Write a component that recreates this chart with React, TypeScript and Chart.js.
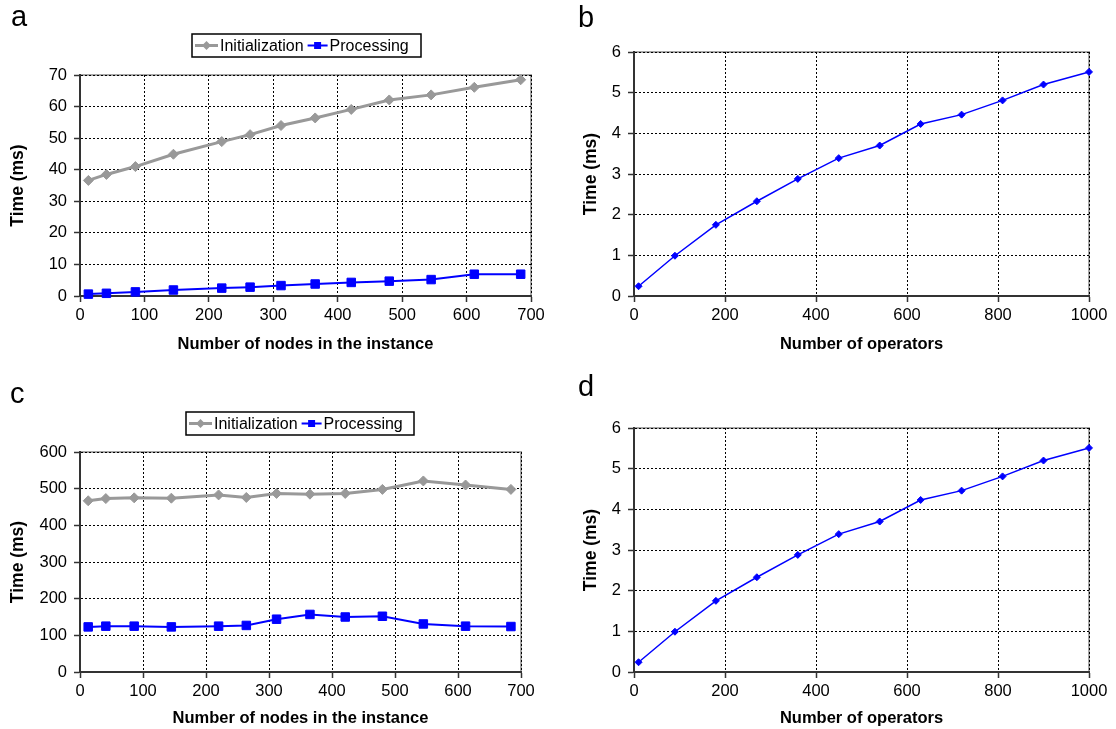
import React, { useEffect, useRef } from 'react';
import { Chart, registerables } from 'chart.js';

Chart.register(...registerables);

const FONT = '"Liberation Sans", Arial, Helvetica, sans-serif';

// ---- data ----
const nodeCounts = [13, 41, 86, 145, 220, 264, 312, 365, 421, 480, 545, 612, 684];
const initTimesA = [36.6, 38.5, 41.0, 44.9, 48.9, 51.1, 54.0, 56.4, 59.1, 62.1, 63.7, 66.1, 68.5];
const procTimesA = [0.6, 0.85, 1.3, 1.9, 2.5, 2.8, 3.3, 3.8, 4.3, 4.7, 5.2, 6.9, 6.9];
const initTimesC = [467, 473, 475, 474, 483, 476, 487, 485, 487, 498, 521, 510, 498];
const procTimesC = [123, 125, 125, 123, 125, 127, 144, 157, 150, 152, 131, 125, 124];
const operatorCounts = [10, 90, 180, 270, 360, 450, 540, 630, 720, 810, 900, 1000];
const operatorTimesB = [0.24, 0.99, 1.75, 2.33, 2.88, 3.39, 3.7, 4.23, 4.46, 4.81, 5.2, 5.51];
const operatorTimesD = [0.24, 0.99, 1.75, 2.33, 2.88, 3.39, 3.7, 4.23, 4.46, 4.81, 5.2, 5.51];

const nodeTicks = [0, 100, 200, 300, 400, 500, 600, 700];
const operatorTicks = [0, 200, 400, 600, 800, 1000];
const timeTicksA = [0, 10, 20, 30, 40, 50, 60, 70];
const timeTicksC = [0, 100, 200, 300, 400, 500, 600];
const timeTicksOps = [0, 1, 2, 3, 4, 5, 6];

const seriesNames = ['Initialization', 'Processing'];
const xTitleNodes = 'Number of nodes in the instance';
const xTitleOps = 'Number of operators';
const yTitle = 'Time (ms)';

const GREY = '#999999';
const BLUE = '#0000ff';

function pts(xs: number[], ys: number[]) {
  return xs.map((x, i) => ({ x, y: ys[i] }));
}

function drawMarker(ctx: CanvasRenderingContext2D, style: string, x: number, y: number, color: string) {
  ctx.fillStyle = color;
  ctx.beginPath();
  if (style === 'rect') {
    ctx.rect(x - 3.5, y - 3.5, 7, 7);
  } else {
    ctx.moveTo(x, y - 4.5);
    ctx.lineTo(x + 4.5, y);
    ctx.lineTo(x, y + 4.5);
    ctx.lineTo(x - 4.5, y);
    ctx.closePath();
  }
  ctx.fill();
}

const decorPlugin = {
  id: 'panelDecor',
  beforeDraw(chart: any) {
    const { ctx, chartArea: ca } = chart;
    ctx.save();
    ctx.strokeStyle = '#a6a6a6';
    ctx.lineWidth = 2;
    ctx.beginPath();
    ctx.moveTo(ca.left, ca.top);
    ctx.lineTo(ca.right, ca.top);
    ctx.lineTo(ca.right, ca.bottom);
    ctx.stroke();
    ctx.restore();
  },
  afterDraw(chart: any, _args: any, opts: any) {
    const { ctx } = chart;
    ctx.save();
    ctx.fillStyle = '#000';
    ctx.font = `29px ${FONT}`;
    ctx.textBaseline = 'alphabetic';
    ctx.textAlign = 'left';
    ctx.fillText(opts.letter, opts.letterX, opts.letterY);
    if (opts.legend) {
      const { x, y, w, h } = opts.legend;
      ctx.fillStyle = '#fff';
      ctx.fillRect(x, y, w, h);
      ctx.strokeStyle = '#000';
      ctx.lineWidth = 1.5;
      ctx.strokeRect(x, y, w, h);
      let cx = x + 3;
      const cy = y + h / 2;
      ctx.font = `16px ${FONT}`;
      ctx.textBaseline = 'middle';
      chart.data.datasets.forEach((ds: any, i: number) => {
        const segW = i === 0 ? 23 : 20;
        ctx.strokeStyle = ds.borderColor;
        ctx.lineWidth = ds.borderWidth;
        ctx.beginPath();
        ctx.moveTo(cx, cy);
        ctx.lineTo(cx + segW, cy);
        ctx.stroke();
        drawMarker(ctx, ds.pointStyle, cx + segW / 2, cy, ds.borderColor);
        cx += segW + 2;
        ctx.fillStyle = '#000';
        ctx.fillText(ds.label, cx, cy + 1);
        cx += ctx.measureText(ds.label).width + 4;
      });
    }
    ctx.restore();
  },
};

type PanelSpec = {
  canvas: { left: number; top: number; w: number; h: number };
  plot: { l: number; r: number; t: number; b: number };
  yTitleX: number;
  xTitleY: number;
  letter: string;
  letterX: number;
  letterY: number;
  legend?: { x: number; y: number; w: number; h: number };
  xMax: number;
  yMax: number;
  xTicks: number[];
  yTicks: number[];
  xTitle: string;
  datasets: any[];
};

function Panel({ spec }: { spec: PanelSpec }) {
  const ref = useRef<HTMLCanvasElement>(null);
  useEffect(() => {
    const c = spec.canvas;
    const p = spec.plot;
    const tickFont = { family: FONT, size: 16.5 };
    const xTitleFont = { family: FONT, size: 16.5, weight: 'bold' as const };
    const yTitleFont = { family: FONT, size: 17.5, weight: 'bold' as const };
    const fmt = (v: any) => String(v);
    const chart = new Chart(ref.current as HTMLCanvasElement, {
      type: 'line',
      data: { datasets: spec.datasets },
      plugins: [decorPlugin as any],
      options: {
        responsive: false,
        animation: false,
        devicePixelRatio: 1,
        layout: {
          padding: {
            left: 0,
            top: p.t - c.top,
            right: c.left + c.w - p.r,
            bottom: 0,
          },
        },
        plugins: {
          legend: { display: false },
          tooltip: { enabled: false },
          panelDecor: {
            letter: spec.letter,
            letterX: spec.letterX - c.left,
            letterY: spec.letterY - c.top,
            legend: spec.legend
              ? { x: spec.legend.x - c.left, y: spec.legend.y - c.top, w: spec.legend.w, h: spec.legend.h }
              : null,
          },
        } as any,
        scales: {
          x: {
            type: 'linear',
            min: 0,
            max: spec.xMax,
            afterBuildTicks: (s: any) => {
              s.ticks = spec.xTicks.map((v) => ({ value: v }));
            },
            afterFit: (s: any) => {
              s.height = c.top + c.h - p.b;
            },
            ticks: { font: tickFont, color: '#000', padding: 4, maxRotation: 0, autoSkip: false, callback: fmt },
            grid: { color: '#000', lineWidth: 1, tickLength: 6, tickColor: '#333', tickWidth: 1.5, tickBorderDash: [] } as any,
            border: { display: true, color: '#333', width: 2, dash: [2, 2] },
            title: {
              display: true,
              text: spec.xTitle,
              font: xTitleFont,
              color: '#000',
              padding: { top: 0, bottom: c.top + c.h - spec.xTitleY - (16.5 * 1.2) / 2 },
            },
          },
          y: {
            type: 'linear',
            min: 0,
            max: spec.yMax,
            afterBuildTicks: (s: any) => {
              s.ticks = spec.yTicks.map((v) => ({ value: v }));
            },
            afterFit: (s: any) => {
              s.width = p.l - c.left;
            },
            ticks: { font: tickFont, color: '#000', padding: 7, autoSkip: false, callback: fmt },
            grid: { color: '#000', lineWidth: 1, tickLength: 6, tickColor: '#333', tickWidth: 1.5, tickBorderDash: [] } as any,
            border: { display: true, color: '#333', width: 2, dash: [2, 2] },
            title: {
              display: true,
              text: yTitle,
              font: yTitleFont,
              color: '#000',
              padding: { top: spec.yTitleX - c.left - (17.5 * 1.2) / 2, bottom: 0 },
            },
          },
        },
      },
    });
    return () => chart.destroy();
  }, [spec]);
  const c = spec.canvas;
  return (
    <canvas
      ref={ref}
      width={c.w}
      height={c.h}
      style={{ position: 'absolute', left: c.left, top: c.top, width: c.w, height: c.h }}
    />
  );
}

function nodeDatasets(init: number[], proc: number[]) {
  return [
    {
      label: seriesNames[0],
      data: pts(nodeCounts, init),
      borderColor: GREY,
      backgroundColor: GREY,
      borderWidth: 3,
      pointStyle: 'rectRot',
      pointRadius: 5,
      pointBorderWidth: 1,
      pointBorderColor: GREY,
      pointBackgroundColor: GREY,
      tension: 0,
      clip: false,
    },
    {
      label: seriesNames[1],
      data: pts(nodeCounts, proc),
      borderColor: BLUE,
      backgroundColor: BLUE,
      borderWidth: 2,
      pointStyle: 'rect',
      pointRadius: 6,
      pointBorderWidth: 1,
      pointBorderColor: BLUE,
      pointBackgroundColor: BLUE,
      tension: 0,
      clip: false,
    },
  ];
}

function opsDatasets(times: number[]) {
  return [
    {
      label: 'Time',
      data: pts(operatorCounts, times),
      borderColor: BLUE,
      backgroundColor: BLUE,
      borderWidth: 1.5,
      pointStyle: 'rectRot',
      pointRadius: 3.5,
      pointBorderWidth: 1,
      pointBorderColor: BLUE,
      pointBackgroundColor: BLUE,
      tension: 0,
      clip: false,
    },
  ];
}

const panels: PanelSpec[] = [
  {
    canvas: { left: 0, top: 0, w: 558, h: 364 },
    plot: { l: 80, r: 531, t: 75, b: 296 },
    yTitleX: 18,
    xTitleY: 344,
    letter: 'a',
    letterX: 11,
    letterY: 26,
    legend: { x: 192, y: 34, w: 229, h: 23 },
    xMax: 700,
    yMax: 70,
    xTicks: nodeTicks,
    yTicks: timeTicksA,
    xTitle: xTitleNodes,
    datasets: nodeDatasets(initTimesA, procTimesA),
  },
  {
    canvas: { left: 558, top: 0, w: 558, h: 364 },
    plot: { l: 634, r: 1089, t: 52, b: 296 },
    yTitleX: 591,
    xTitleY: 344,
    letter: 'b',
    letterX: 578,
    letterY: 27,
    xMax: 1000,
    yMax: 6,
    xTicks: operatorTicks,
    yTicks: timeTicksOps,
    xTitle: xTitleOps,
    datasets: opsDatasets(operatorTimesB),
  },
  {
    canvas: { left: 0, top: 364, w: 558, h: 365 },
    plot: { l: 80, r: 521, t: 452, b: 672 },
    yTitleX: 18,
    xTitleY: 718,
    letter: 'c',
    letterX: 10,
    letterY: 403,
    legend: { x: 186, y: 412, w: 228, h: 23 },
    xMax: 700,
    yMax: 600,
    xTicks: nodeTicks,
    yTicks: timeTicksC,
    xTitle: xTitleNodes,
    datasets: nodeDatasets(initTimesC, procTimesC),
  },
  {
    canvas: { left: 558, top: 364, w: 558, h: 365 },
    plot: { l: 634, r: 1089, t: 428, b: 672 },
    yTitleX: 591,
    xTitleY: 718,
    letter: 'd',
    letterX: 578,
    letterY: 396,
    xMax: 1000,
    yMax: 6,
    xTicks: operatorTicks,
    yTicks: timeTicksOps,
    xTitle: xTitleOps,
    datasets: opsDatasets(operatorTimesD),
  },
];

export default function App() {
  return (
    <div style={{ position: 'absolute', left: 0, top: 0, width: 1116, height: 729, background: '#fff' }}>
      {panels.map((s, i) => (
        <Panel key={i} spec={s} />
      ))}
    </div>
  );
}
